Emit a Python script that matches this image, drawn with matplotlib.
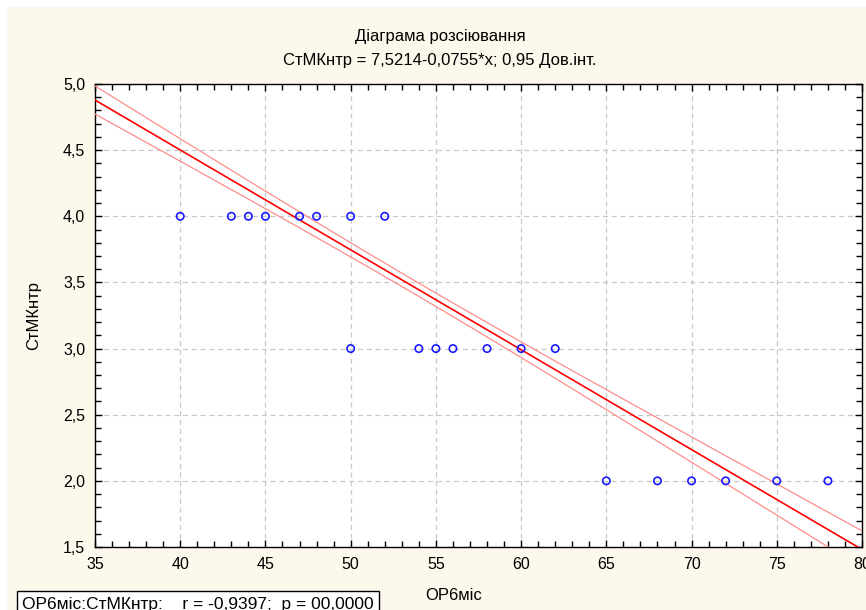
import numpy as np
import matplotlib
matplotlib.use("Agg")
import matplotlib.pyplot as plt
from matplotlib.ticker import MultipleLocator, FuncFormatter
from matplotlib.patches import Rectangle

# ---- data ----
x_vals = [40, 43, 44, 45, 47, 48, 50, 52,
          50, 54, 55, 56, 58, 60, 62,
          65, 68, 70, 72, 75, 78]
y_vals = [4, 4, 4, 4, 4, 4, 4, 4,
          3, 3, 3, 3, 3, 3, 3,
          2, 2, 2, 2, 2, 2]
# regression (from title) and summary statistics of the underlying sample
intercept = 7.5214
slope = -0.0755
n_obs = 60
x_mean = 53.7
x_sd = 10.1
resid_se = 0.194
t_crit = 2.0
x_ticks = [35, 40, 45, 50, 55, 60, 65, 70, 75, 80]
y_ticks = [1.5, 2.0, 2.5, 3.0, 3.5, 4.0, 4.5, 5.0]
title1 = "Діаграма розсіювання"
title2 = "СтМКнтр = 7,5214-0,0755*x; 0,95 Дов.інт."
xlabel = "ОР6міс"
ylabel = "СтМКнтр"
stat_text = "ОР6міс:СтМКнтр:    r = -0,9397;  p = 00,0000"

plt.rcParams['font.family'] = ['Liberation Sans', 'DejaVu Sans']

W, H = 866, 610
fig = plt.figure(figsize=(W / 100, H / 100), dpi=100)
fig.patch.set_facecolor('white')
fig.patches.append(Rectangle((7 / W, 0), 1, 1 - 7 / H, transform=fig.transFigure,
                             facecolor='#fdf8ec', edgecolor='none', zorder=-10))

L, R, T, B = 95, 862, 84, 547
ax = fig.add_axes([L / W, 1 - B / H, (R - L) / W, (B - T) / H])
ax.set_facecolor('white')

x = np.array(x_vals, float)
y = np.array(y_vals, float)
xs = np.linspace(35, 80, 300)
fit = intercept + slope * xs
sxx = (n_obs - 1) * x_sd ** 2
half = t_crit * resid_se * np.sqrt(1 / n_obs + (xs - x_mean) ** 2 / sxx)

ax.plot(xs, fit, color='#ff0000', lw=1.2, zorder=3)
ax.plot(xs, fit + half, color='#ff8c8c', lw=0.9, zorder=3)
ax.plot(xs, fit - half, color='#ff8c8c', lw=0.9, zorder=3)
ax.scatter(x, y, s=28, facecolors='none', edgecolors='#1a1aff', linewidths=1.2, zorder=4)

ax.set_xlim(35, 80)
ax.set_ylim(1.5, 5.0)
ax.set_xticks(x_ticks)
ax.set_yticks(y_ticks)
ax.xaxis.set_minor_locator(MultipleLocator(1))
ax.yaxis.set_minor_locator(MultipleLocator(0.1))
ax.yaxis.set_major_formatter(FuncFormatter(lambda v, p: f"{v:.1f}".replace('.', ',')))
ax.xaxis.set_major_formatter(FuncFormatter(lambda v, p: f"{v:.0f}"))
ax.tick_params(which='both', direction='in', top=True, right=True, colors='black',
               labelsize=11.5, width=1)
ax.tick_params(which='major', length=5, pad=7)
ax.tick_params(which='minor', length=4)
ax.grid(True, which='major', color='#c8c8c8', linestyle=(0, (4, 3)), lw=0.9)
for sp in ax.spines.values():
    sp.set_color('black')
    sp.set_linewidth(1.0)

fig.text(440 / W, 1 - 36 / H, title1, ha='center', va='center', fontsize=12)
fig.text(440 / W, 1 - 60 / H, title2, ha='center', va='center', fontsize=12)
fig.text(454 / W, 1 - 595 / H, xlabel, ha='center', va='center', fontsize=12)
fig.text(34 / W, 1 - ((T + B) / 2) / H, ylabel, ha='center', va='center',
         rotation=90, fontsize=12)
fig.text(198 / W, 1 - 604 / H, stat_text, ha='center', va='center', fontsize=12.5,
         bbox=dict(boxstyle='square,pad=0.3', facecolor='white', edgecolor='black', lw=1))

fig.savefig('out.png', dpi=100, facecolor=fig.get_facecolor())
